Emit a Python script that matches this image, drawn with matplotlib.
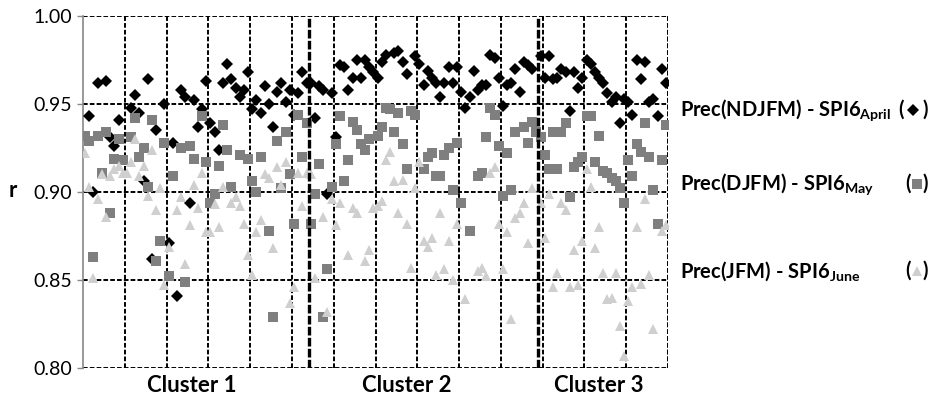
import numpy as np
import matplotlib
matplotlib.use('Agg')
import matplotlib.pyplot as plt
from matplotlib.lines import Line2D

NA = np.nan

# Correlation r per station (NaN = mark not visible)
# Prec(NDJFM) - SPI6 April (diamonds)
ndjfm_c1 = [NA, .943, .900, .962, NA, .963, .931, .926, .941, NA,
            NA, .948, .955, .945, .906, .964, .862, .935, NA, .950,
            .871, .928, .841, .958, .954, .894, .952, .937, .947, .963,
            .939, .934, .924, .962, .973, .964, .959, .954, .958, .968,
            .947, .952, .945, .960, .950, .937, .957, .962, .951, .958,
            .944, .956, .968, .962]
ndjfm_c2 = [.962, .942, .960, .958, .899, .956, .931, .972, .971, .958,
            .965, .975, .965, .975, .971, .968, .965, .974, .978, NA,
            .979, .980, .974, .967, NA, .977, .973, .961, .969, .965,
            .962, .954, .962, .971, .962, .971, .957, .948, .954, .969,
            .958, .961, .961, .978, .976, .965, .949, .961, .962, .970,
            .957, .974, .972, .970, NA]
ndjfm_c3 = [.977, .965, .977, .964, .965, .970, .968, .946, .968, .959,
            .965, .975, .973, .968, .965, .962, .956, .951, .954, .939,
            .953, .951, .944, .975, .964, .974, .951, .953, .943, .970,
            .962]

# Prec(DJFM) - SPI6 May (squares)
djfm_c1 = [.932, .929, .863, .932, .911, .934, .888, .919, .930, .918,
           NA, .931, .942, .920, .925, .903, .941, .861, .872, .928,
           .852, .909, NA, .925, .849, .926, .919, NA, .943, .917,
           .894, .899, .915, .938, .924, .903, NA, .921, NA, .919,
           .906, .900, .920, NA, .878, .829, .929, .902, .934, .910,
           .882, .944, .920, .939]
djfm_c2 = [.882, .899, .916, .829, .856, .903, .927, .943, .906, .918,
           .940, .935, .927, .924, .930, NA, .932, .937, .948, .947,
           .934, .945, .927, .913, .946, .944, NA, .913, .920, .922,
           .909, .909, .921, .925, .901, .928, .894, NA, .878, NA,
           .909, .911, .931, .948, .944, .926, .898, .922, .901, .934,
           NA, .937, .928, .940, .934]
djfm_c3 = [.931, .921, .913, .934, .913, .934, .939, .897, .914, .917,
           .920, .943, .943, .917, .932, .912, .911, .908, .906, .902,
           .894, .918, .909, .927, .923, .939, .920, .901, .882, .918,
           .938]

# Prec(JFM) - SPI6 June (triangles)
jfm_c1 = [.922, .903, .851, .896, .910, .886, .909, .913, .915, .911,
          .911, .917, .930, .909, .915, .898, .924, .890, .902, .847,
          .869, NA, .890, .897, .859, .881, .904, .891, .911, .877,
          .877, .893, .880, .903, NA, .894, .897, .892, .882, .864,
          .853, .877, .884, .910, .908, .868, .914, .904, .917, .837,
          .846, .911, .892, .911]
jfm_c2 = [.910, .851, NA, .886, .832, .896, .881, .894, NA, .864,
          .891, .888, NA, .861, .867, .891, .892, .895, .918, .923,
          .906, .888, .907, .882, .857, .902, .917, .872, .869, .874,
          .853, .888, .856, .872, .850, .882, NA, .839, NA, NA,
          .855, .857, .852, .911, .914, .882, .856, .877, .828, .885,
          .888, .894, .871, .902, NA]
jfm_c3 = [.894, .874, .899, .846, .854, .894, .890, .846, .867, .847,
          .872, .913, .903, .868, .880, .854, .839, .840, .854, .824,
          .807, .838, .846, .880, .848, .896, .853, .822, NA, .878,
          .881]

clusters = ['Cluster 1', 'Cluster 2', 'Cluster 3']
cluster_label_x = [25.5, 77, 123]
y_ticks = [0.80, 0.85, 0.90, 0.95, 1.00]

legend_labels = [r'Prec(NDJFM) - SPI6$_{\mathbf{April}}$',
                 r'Prec(DJFM) - SPI6$_{\mathbf{May}}$',
                 r'Prec(JFM) - SPI6$_{\mathbf{June}}$']

ndjfm = np.array(ndjfm_c1 + ndjfm_c2 + ndjfm_c3)
djfm = np.array(djfm_c1 + djfm_c2 + djfm_c3)
jfm = np.array(jfm_c1 + jfm_c2 + jfm_c3)
n = len(ndjfm)
x = np.arange(n)
bounds = [len(ndjfm_c1) - 0.5, len(ndjfm_c1) + len(ndjfm_c2) - 0.5]

plt.rcParams['font.family'] = ['Lato', 'DejaVu Sans']
plt.rcParams['mathtext.fontset'] = 'custom'
plt.rcParams['mathtext.rm'] = 'Lato'
plt.rcParams['mathtext.bf'] = 'Lato:bold'

W, H = 930, 396
fig = plt.figure(figsize=(W / 100, H / 100), dpi=100)
ax = fig.add_axes([83 / W, 1 - 368 / H, (668 - 83) / W, (368 - 16) / H])

dash = (0, (2.4, 1.1))
for yv in y_ticks:
    ax.axhline(yv, color='black', lw=1.4, ls=dash, zorder=1)
for xv in np.arange(9.5, n, 10):
    ax.axvline(xv, color='black', lw=1.4, ls=dash, zorder=1)
ax.axvline(n - 0.5, color='black', lw=1.4, ls=dash, zorder=1)

styles = [(ndjfm, 'D', 5.8, 'black'),
          (djfm, 's', 7.2, '#7f7f7f'),
          (jfm, '^', 7.8, '#cfcfcf')]
for k, (vals, mk, ms, col) in enumerate(styles):
    ax.plot(x, vals, ls='none', marker=mk, ms=ms, color=col, mew=0, zorder=3 + k)

for b in bounds:
    ax.axvline(b, color='black', lw=2.4, ls=(0, (2.6, 0.7)), zorder=7)

ax.set_xlim(-0.5, n - 0.5)
ax.set_ylim(0.80, 1.00)
ax.set_yticks(y_ticks)
ax.set_yticklabels([f'{v:.2f}' for v in y_ticks], fontsize=14)
ax.set_xticks(cluster_label_x)
ax.set_xticklabels(clusters, fontsize=16, fontweight='bold')
ax.tick_params(axis='x', length=0, pad=5)
ax.tick_params(axis='y', length=4, width=1, color='#888888', pad=4)
for s in ['top', 'right', 'bottom']:
    ax.spines[s].set_visible(False)
ax.spines['left'].set_color('#888888')
ax.spines['left'].set_linewidth(1.2)

fig.text(9 / W, 1 - 191 / H, 'r', fontsize=16, fontweight='bold', va='center')

legend_y = [110, 184, 271]
legend_open_x = [898, 905, 905]
markers = [('D', 6, 'black'), ('s', 7, '#7f7f7f'), ('^', 7, '#cfcfcf')]
for lab, yy, ox, (mk, ms, col) in zip(legend_labels, legend_y, legend_open_x, markers):
    fig.text(680 / W, 1 - yy / H, lab, fontsize=14.5, fontweight='bold', va='center')
    fig.text(ox / W, 1 - yy / H, '(', fontsize=14.5, fontweight='bold', va='center')
    fig.text(922 / W, 1 - yy / H, ')', fontsize=14.5, fontweight='bold', va='center')
    fig.add_artist(Line2D([(ox + 922 + 6) / 2 / W], [1 - yy / H], transform=fig.transFigure,
                          marker=mk, ms=ms, color=col, mew=0, ls='none'))

fig.savefig('out.png', dpi=100)
